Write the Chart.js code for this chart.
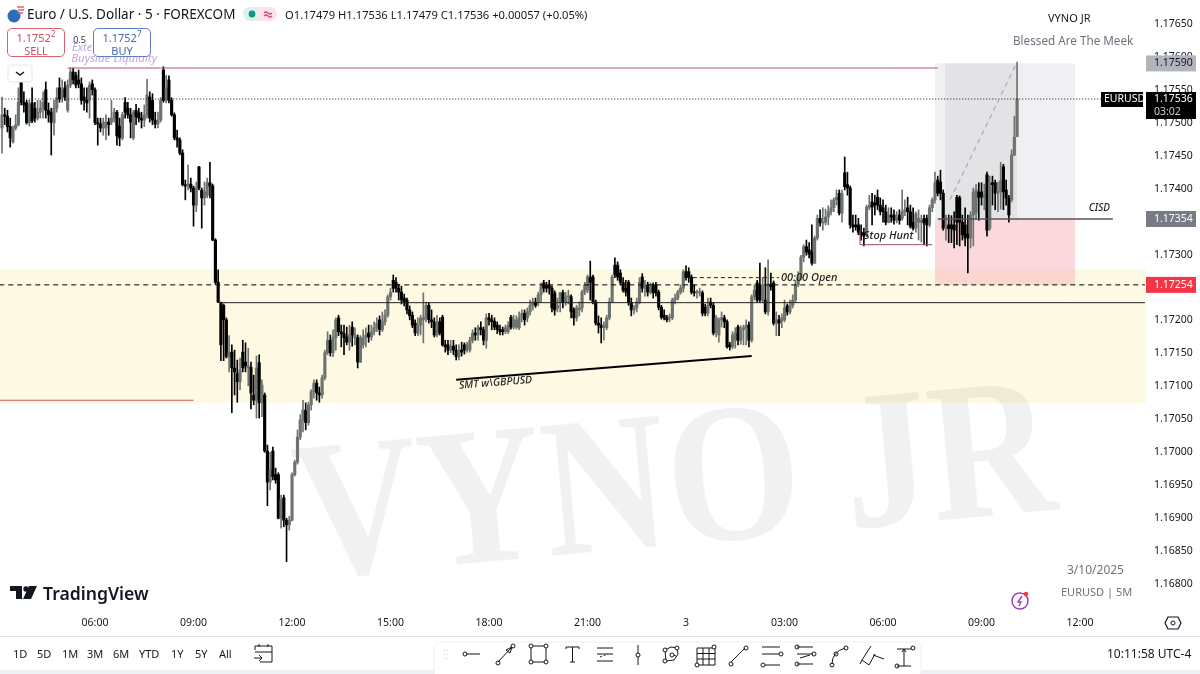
<!DOCTYPE html>
<html>
<head>
<meta charset="utf-8">
<title>EURUSD 5m</title>
<script src="https://cdn.jsdelivr.net/npm/chart.js@4/dist/chart.umd.min.js"></script>
<style>
    html, body { margin: 0; padding: 0; background: #fff; }
    body { width: 1200px; height: 674px; overflow: hidden; position: relative; font-family: "Noto Sans", sans-serif; color: #131722; }
    canvas { position: absolute; left: 0; top: 0; }
    .t { position: absolute; white-space: nowrap; font-size: 11px; line-height: 14px; }
    .box { position: absolute; box-sizing: border-box; width: 58px; height: 29px; top: 28px; background: #fff; border-radius: 5px; border: 1px solid; text-align: center; font-size: 11px; line-height: 13px; padding-top: 2px; }
    .box sup { font-size: 8px; line-height: 0; }
    svg { position: absolute; left: 0; top: 0; }
</style>
</head>
<body>
<canvas id="myChart" width="1200" height="674"></canvas>

<svg width="1200" height="674" fill="none" stroke="#131722" stroke-width="1">
    <!-- header logo and pill -->
    <circle cx="14" cy="16" r="6.5" fill="#2a6fb8" stroke="none"/>
    <path d="M17 7h7M18 10h6M17 13h6" stroke="#e2606a" stroke-width="1.4"/>
    <rect x="243" y="7" width="34" height="14" rx="7" fill="#fbe3ec" stroke="none"/>
    <path d="M243 14a7 7 0 0 1 7-7h8v14h-8a7 7 0 0 1-7-7z" fill="#dff1ec" stroke="none"/>
    <circle cx="252" cy="14" r="3.4" fill="#089981" stroke="none"/>
    <path d="M264 13q2-2 4 0t4 0M264 16q2-2 4 0t4 0" stroke="#d6457d" stroke-width="1.2"/>
    <!-- chevron -->
    <rect x="8" y="65" width="24" height="17" rx="2" fill="#fff" stroke="#e4e6ea"/>
    <path d="M16 72l4 3 4-3" stroke-width="1.4"/>
    <!-- TradingView mark -->
    <path d="M10 586h12v13h-6v-8h-6z M29 586h8l-6 13h-8z" fill="#131722" stroke="none"/>
    <circle cx="26" cy="589" r="2.7" fill="#131722" stroke="none"/>
    <!-- bolt badge -->
    <circle cx="1020" cy="601" r="8" stroke="#9c3fc0" stroke-width="1.5"/>
    <path d="M1022 596l-4 6h3l-2 4" stroke="#9c3fc0" stroke-width="1.4"/>
    <circle cx="1026" cy="594" r="2.2" fill="#f23645" stroke="none"/>
    <!-- settings -->
    <path d="M1168 617h10l3 6-3 6h-10l-3-6z" stroke-width="1.2"/><circle cx="1173" cy="623" r="2"/>
    <!-- bottom rule, strip, toolbar panel -->
    <path d="M0 636.5H1200" stroke="#e0e3eb"/>
    <rect x="0" y="670" width="1200" height="4" fill="#eef0f3" stroke="none"/>
    <rect x="434" y="642" width="487" height="36" rx="7" fill="#fff" stroke="#eceef2"/>
    <!-- date range calendar -->
    <path d="M255 650v-4h17v16h-12M255 652h17M259 644v3M268 644v3M254 658h8M259 655l3 3-3 3"/>
    <path d="M444 650v1M447 650v1M444 654v1M447 654v1M444 658v1M447 658v1" stroke="#c9ccd3"/>
    <!-- drawing tools -->
    <path d="M466 654h14"/><circle cx="465" cy="654" r="2" />
    <path d="M498 662l14-15M506 650l6-3-2 6z" /><circle cx="498" cy="663" r="2"/><circle cx="513" cy="646" r="2"/>
    <rect x="531" y="646" width="15" height="16"/><circle cx="531" cy="646" r="2" fill="#fff"/><circle cx="546" cy="646" r="2" fill="#fff"/><circle cx="531" cy="662" r="2" fill="#fff"/><circle cx="546" cy="662" r="2" fill="#fff"/>
    <path d="M566 647h13M566 647v2M579 647v2M572.5 647v15M570 662h5"/>
    <path d="M597 648h16M597 654h16M597 661h16"/><path d="M600 657l8-3" stroke-dasharray="2 2"/>
    <path d="M638 645v20"/><circle cx="638" cy="655" r="2" fill="#fff"/>
    <path d="M665 650l6-3 6 1 1 6-4 6-8 1z M670 654l6 2"/><circle cx="665" cy="650" r="2" fill="#fff"/><circle cx="677" cy="648" r="2" fill="#fff"/><circle cx="665" cy="661" r="2" fill="#fff"/><circle cx="672" cy="655" r="2" fill="#fff"/>
    <path d="M697 648h18v17h-18z M697 653.5h18M697 659h18M703 648v17M709 648v17"/><circle cx="714" cy="647" r="2" fill="#fff"/><circle cx="697" cy="665" r="2" fill="#fff"/>
    <path d="M731 662l14-14"/><circle cx="731" cy="664" r="2"/><circle cx="746" cy="648" r="2"/>
    <path d="M762 647h18M762 654h18M762 665h18"/><circle cx="781" cy="654" r="2" fill="#fff"/><circle cx="763" cy="665" r="2" fill="#fff"/>
    <path d="M797 647h16M797 654h16M797 664h16M800 658l10-3" /><circle cx="797" cy="647" r="2"/><circle cx="797" cy="664" r="2"/><circle cx="814" cy="654" r="2"/>
    <path d="M832 664q0-12 13-16"/><circle cx="832" cy="665" r="2"/><circle cx="836" cy="654" r="2"/><circle cx="846" cy="648" r="2"/>
    <path d="M871 646l-9 14 7 5 6-11M873 655l11 4M862 660l-2 4"/>
    <path d="M897 649h14M897 666h14M904 649v17M902 652l2-3 2 3"/><circle cx="913" cy="648" r="2"/><circle cx="897" cy="666" r="2"/>
</svg>

<span class="t" style="left:27px;top:6px;font-size:13.5px;line-height:16px">Euro / U.S. Dollar · 5 · FOREXCOM</span>
<span class="t" style="left:285px;top:8px;font-size:11.2px">O1.17479 H1.17536 L1.17479 C1.17536 +0.00057 (+0.05%)</span>
<div class="box" style="left:7px;border-color:#d8616d;color:#cc4c5a">1.1752<sup>2</sup><br>SELL</div>
<div class="box" style="left:93px;border-color:#5b7fc4;color:#4569b0">1.1752<sup>7</sup><br>BUY</div>
<span class="t" style="left:1048px;top:11px">VYNO JR</span>
<span class="t" style="left:1013px;top:33px;font-size:11.7px;color:#6f737c">Blessed Are The Meek</span>
<span class="t" style="left:1067px;top:563px;font-size:12px;color:#6f737c">3/10/2025</span>
<span class="t" style="left:1061px;top:585px;color:#6f737c">EURUSD | 5M</span>
<span class="t" style="left:43px;top:582px;font-size:17.6px;line-height:22px;font-weight:600">TradingView</span>

<span class="t" style="left:13px;top:647px">1D</span>
<span class="t" style="left:37px;top:647px">5D</span>
<span class="t" style="left:62px;top:647px">1M</span>
<span class="t" style="left:87px;top:647px">3M</span>
<span class="t" style="left:113px;top:647px">6M</span>
<span class="t" style="left:139px;top:647px">YTD</span>
<span class="t" style="left:171px;top:647px">1Y</span>
<span class="t" style="left:195px;top:647px">5Y</span>
<span class="t" style="left:219px;top:647px">All</span>
<span class="t" style="left:1107px;top:647px;font-size:12px">10:11:58 UTC-4</span>

<script>
// candle values, in points above 1.17002 (534 means 1.17536), one per 5 minute bar
const opens = [
    490,510,508,492,469,490,495,560,529,528,
    498,528,520,505,514,520,548,517,514,498,
    520,551,536,551,517,555,575,570,563,557,
    537,532,532,557,548,498,496,490,490,499,
    499,505,514,493,475,529,520,510,475,517,
    513,505,502,510,537,532,502,496,502,578,
    532,563,532,510,475,472,452,404,402,405,
    399,373,431,396,384,388,407,402,320,256,
    225,221,199,143,150,126,118,105,150,135,
    126,127,85,77,134,73,85,0,-47,0,
    -36,-36,-102,-71,-105,-112,-105,-36,-17,21,
    47,62,43,70,90,103,88,85,111,149,
    168,149,172,202,181,178,173,165,188,172,
    172,135,161,172,179,173,181,187,199,184,
    196,206,234,259,256,247,241,232,229,214,
    206,194,179,191,199,202,221,199,196,176,
    196,203,161,161,153,159,153,143,153,161,
    153,153,168,179,176,187,184,168,202,199,
    197,191,184,184,181,181,203,188,188,187,
    202,209,202,211,221,226,226,237,255,252,
    252,247,240,217,225,240,225,234,234,214,
    202,214,217,241,244,264,264,226,194,191,
    187,187,202,226,282,282,270,256,247,256,
    225,214,217,226,264,247,252,241,252,252,
    241,218,206,202,202,202,229,232,241,247,
    272,272,264,241,240,240,240,218,209,226,
    221,179,176,199,202,196,161,158,168,188,
    168,184,187,191,168,234,255,252,229,229,
    211,253,255,194,199,197,199,220,211,221,
    229,252,263,294,310,305,302,285,323,353,
    346,347,355,363,369,381,391,361,422,404,
    399,343,343,343,332,331,328,370,378,376,
    385,373,369,363,347,358,358,350,358,353,
    363,369,363,347,338,347,347,353,353,343,
    369,381,411,408,391,338,343,343,343,385,
    384,347,343,329,323,358,361,393,393,385,
    419,338,407,407,391,393,431,396,384,381,
    449,477
];
const highs = [
    537,520,517,505,493,510,551,566,545,532,
    532,551,529,532,532,545,560,528,520,532,
    551,566,563,560,563,581,581,575,578,566,
    551,551,560,563,551,505,505,505,510,505,
    532,520,517,505,514,536,529,520,517,526,
    520,514,525,564,545,542,514,514,536,583,
    570,569,536,513,487,475,457,411,434,414,
    402,408,432,399,408,414,438,405,322,275,
    226,223,202,175,161,153,138,141,168,164,
    156,135,115,144,146,108,88,9,-2,6,
    -26,-33,-67,-67,-102,-99,-33,-14,32,55,
    77,73,74,93,108,108,97,115,153,181,
    176,184,202,206,191,191,188,191,196,187,
    176,175,184,187,191,191,196,202,205,211,
    214,237,247,267,263,253,250,238,232,220,
    211,199,202,206,240,226,225,214,202,206,
    202,206,168,168,168,168,161,161,165,164,
    165,173,184,187,191,196,188,208,209,206,
    202,196,191,188,191,196,206,206,205,211,
    214,214,217,229,232,232,241,255,259,256,
    259,250,243,232,241,244,241,244,237,217,
    221,226,244,256,267,288,267,229,205,202,
    196,206,232,267,293,287,275,263,259,259,
    232,221,232,263,269,259,256,255,255,256,
    244,221,214,206,208,232,238,244,252,275,
    281,278,267,252,244,247,243,223,232,232,
    225,206,202,211,206,199,165,181,187,191,
    190,191,199,196,237,252,259,285,263,278,
    290,270,258,211,206,208,229,223,229,237,
    259,272,297,313,320,316,343,326,358,366,
    369,367,372,381,384,396,396,396,446,423,
    402,358,358,353,343,338,373,388,391,388,
    396,384,381,373,369,369,366,363,366,396,
    381,385,373,369,363,366,358,358,358,373,
    384,423,417,426,396,358,358,357,363,388,
    387,358,369,358,363,399,404,407,407,405,
    423,417,417,411,408,438,435,411,388,457,
    508,590
];
const lows = [
    452,495,484,461,467,487,493,525,514,496,
    493,498,499,502,505,505,505,499,449,479,
    514,529,529,532,514,551,557,551,551,526,
    517,514,505,540,495,464,484,479,472,479,
    495,499,464,463,472,505,505,475,472,495,
    499,490,492,505,499,495,490,490,499,529,
    528,528,508,472,461,449,402,381,396,393,
    341,363,396,338,373,384,384,319,253,225,
    137,137,141,120,58,85,74,93,120,120,
    99,64,70,50,50,52,-2,-83,-59,-44,
    -49,-103,-117,-115,-168,-120,-106,-38,-20,17,
    29,32,39,62,80,77,74,80,108,146,
    144,143,153,175,158,146,161,153,159,161,
    126,134,156,158,165,168,176,181,176,181,
    191,203,229,241,241,229,223,220,208,199,
    187,175,175,176,164,196,194,187,173,173,
    176,159,150,146,149,146,138,138,144,147,
    150,150,164,168,168,176,161,156,191,184,
    184,178,176,176,178,178,185,185,185,184,
    196,191,196,206,214,218,220,225,241,241,
    238,211,206,211,211,217,221,223,202,191,
    197,205,211,237,240,229,223,191,179,164,
    168,184,199,225,263,259,252,241,235,221,
    205,208,211,223,241,235,235,238,232,235,
    214,200,199,196,196,199,223,229,238,241,
    259,256,238,235,232,235,205,205,205,217,
    176,173,165,188,187,156,153,155,156,161,
    162,161,161,158,165,229,226,226,225,208,
    206,244,191,175,175,187,196,206,208,217,
    225,249,259,287,297,293,282,284,320,341,
    335,343,343,358,363,373,358,347,396,388,
    338,332,335,328,320,311,325,366,343,358,
    366,358,347,343,346,347,344,346,344,350,
    357,343,338,335,332,320,317,313,311,340,
    363,376,387,381,335,320,316,316,308,313,
    311,320,311,270,308,311,353,350,373,366,
    326,335,373,366,363,367,366,373,347,378,
    448,477
];
const closes = [
    510,508,492,475,490,495,529,529,525,498,
    526,501,505,514,520,529,517,510,498,520,
    536,534,548,537,555,575,563,555,557,532,
    532,528,555,548,498,496,490,499,499,495,
    505,514,478,475,510,514,510,499,514,507,
    505,502,510,540,505,502,496,502,532,532,
    551,532,510,475,472,452,404,402,405,399,
    373,399,399,384,393,407,402,320,256,226,
    161,199,143,150,126,120,105,123,126,129,
    129,88,77,126,73,100,0,-47,-29,-39,
    -44,-102,-74,-105,-112,-105,-36,-17,21,47,
    62,43,70,90,103,88,85,111,149,168,
    149,172,199,181,178,172,165,176,176,176,
    135,172,172,176,173,181,187,194,184,196,
    206,234,241,247,247,241,229,226,214,205,
    191,179,191,202,202,221,199,196,176,196,
    179,161,158,153,159,153,143,153,150,153,
    161,168,179,176,187,184,168,202,199,196,
    188,184,181,181,187,191,188,199,199,202,
    209,199,211,221,226,221,237,249,247,247,
    247,217,214,221,240,225,234,235,211,202,
    217,217,241,252,264,256,226,194,191,187,
    191,202,226,264,267,264,256,244,241,225,
    214,217,226,256,247,252,241,249,240,240,
    218,203,202,199,202,229,232,241,247,272,
    263,263,241,240,240,240,209,209,221,221,
    179,202,199,202,196,158,158,176,179,168,
    184,187,191,168,234,244,229,229,252,211,
    253,249,194,199,194,202,217,211,221,229,
    252,263,294,310,302,299,285,323,353,346,
    347,355,363,369,381,385,361,391,401,399,
    343,340,340,332,328,326,370,373,370,373,
    373,363,363,347,358,355,350,353,350,363,
    366,363,341,338,360,353,350,346,343,369,
    381,407,391,391,338,338,337,337,335,347,
    347,328,323,323,358,393,396,385,385,388,
    335,407,404,391,394,410,393,384,358,449,
    476,534
];

const timeLabels = ["06:00", "09:00", "12:00", "15:00", "18:00", "21:00", "3", "03:00", "06:00", "09:00", "12:00"];
const timeBars = [34, 70, 106, 142, 178, 214, 250, 286, 322, 358, 394];
const priceTicks = [1.1765, 1.176, 1.1755, 1.175, 1.1745, 1.174, 1.1735, 1.173, 1.1725, 1.172, 1.1715, 1.171, 1.1705, 1.17, 1.1695, 1.169, 1.1685, 1.168];

// price levels drawn on the chart
const zoneTop = 1.17278, zoneBottom = 1.17075;
const buysideLevel = 1.17583, lastPrice = 1.17536, cisdLevel = 1.17354;
const openLevel = 1.17254, midLevel = 1.17227, oldLowLevel = 1.17079;
const stopHuntLevel = 1.17315, dayOpenLevel = 1.17265;
const smtBars = [166, 274], smtPrices = [1.1711, 1.17146];
const riskTop = 1.17590, riskBottom = 1.17354, stopBottom = 1.17254;
const tagPrices = [1.17590, 1.17354, 1.17254];
const tagColors = ["#b2b5be", "#787b86", "#f23645"];

const toPrice = (v) => 1.17002 + v / 100000;
const bars = opens.map((o, i) => i);
const upColor = "#6d736f", downColor = "#000000";
const barColor = (i) => closes[i] >= opens[i] ? upColor : downColor;
const font = '"Noto Sans", sans-serif';

function hLine(ctx, c, price, from, to, color, width, dash) {
    const y = c.scales.y.getPixelForValue(price);
    ctx.save();
    ctx.strokeStyle = color;
    ctx.lineWidth = width;
    ctx.setLineDash(dash || []);
    ctx.beginPath();
    ctx.moveTo(c.scales.x.getPixelForValue(from), y);
    ctx.lineTo(to === null ? c.chartArea.right : c.scales.x.getPixelForValue(to), y);
    ctx.stroke();
    ctx.restore();
}

function fillBand(ctx, c, from, to, top, bottom, color) {
    const x1 = c.scales.x.getPixelForValue(from), x2 = c.scales.x.getPixelForValue(to);
    const y1 = c.scales.y.getPixelForValue(top), y2 = c.scales.y.getPixelForValue(bottom);
    ctx.fillStyle = color;
    ctx.fillRect(x1, y1, x2 - x1, y2 - y1);
}

function label(ctx, c, text, bar, price, color, style) {
    ctx.fillStyle = color;
    ctx.font = style;
    ctx.textAlign = "left";
    ctx.textBaseline = "middle";
    ctx.fillText(text, c.scales.x.getPixelForValue(bar), c.scales.y.getPixelForValue(price));
}

// zone, position box and watermark go under the candles
const backdrop = {
    id: "backdrop",
    beforeDatasetsDraw(c) {
        const ctx = c.ctx;
        ctx.save();
        fillBand(ctx, c, -1, 418, zoneTop, zoneBottom, "#fef9e3");
        fillBand(ctx, c, 341, 392.2, riskTop, riskBottom, "#f0f0f2");
        fillBand(ctx, c, 344.7, 371, riskTop, riskBottom, "#e3e3e6");
        fillBand(ctx, c, 341, 392.2, riskBottom, stopBottom, "rgba(247,190,195,0.6)");

        ctx.translate(372, 572);
        ctx.rotate(-5.2 * Math.PI / 180);
        ctx.scale(0.87, 1);
        ctx.font = 'bold 198px "Liberation Serif", serif';
        ctx.fillStyle = "rgba(0,0,0,0.055)";
        ctx.textAlign = "left";
        ctx.textBaseline = "alphabetic";
        ctx.fillText("VYNO JR", -82, 0);
        ctx.restore();
    },
    afterDatasetsDraw(c) {
        const ctx = c.ctx, sx = c.scales.x, sy = c.scales.y;
        ctx.save();
        hLine(ctx, c, buysideLevel, 24, 342, "#b5566c", 1);
        hLine(ctx, c, lastPrice, -1, 402, "#131722", 1, [1, 2]);
        hLine(ctx, c, openLevel, -1, null, "#000", 1, [5, 4]);
        hLine(ctx, c, midLevel, 80.4, null, "#222", 1);
        hLine(ctx, c, oldLowLevel, -1, 70, "#d2555e", 1);
        hLine(ctx, c, dayOpenLevel, 252.5, 284, "#222", 1, [4, 3]);
        hLine(ctx, c, stopHuntLevel, 313.6, 340, "#9c4c60", 1);
        hLine(ctx, c, cisdLevel, 342, 406, "#555", 1.4);

        // stop hunt tick
        ctx.strokeStyle = "#9c4c60";
        ctx.beginPath();
        ctx.moveTo(sx.getPixelForValue(313.6), sy.getPixelForValue(stopHuntLevel));
        ctx.lineTo(sx.getPixelForValue(313.6), sy.getPixelForValue(1.17337));
        ctx.stroke();

        // SMT trend line
        ctx.strokeStyle = "#000";
        ctx.lineWidth = 2;
        ctx.beginPath();
        ctx.moveTo(sx.getPixelForValue(smtBars[0]), sy.getPixelForValue(smtPrices[0]));
        ctx.lineTo(sx.getPixelForValue(smtBars[1]), sy.getPixelForValue(smtPrices[1]));
        ctx.stroke();

        // dashed path of the trade
        ctx.strokeStyle = "#a9abb1";
        ctx.lineWidth = 1.2;
        ctx.setLineDash([5, 4]);
        ctx.beginPath();
        ctx.moveTo(sx.getPixelForValue(346.5), sy.getPixelForValue(toPrice(381)));
        ctx.lineTo(sx.getPixelForValue(371), sy.getPixelForValue(toPrice(590)));
        ctx.stroke();
        ctx.setLineDash([]);

        label(ctx, c, "0.5", 26, 1.17625, "#333", "9px " + font);
        label(ctx, c, "Exte", 25.6, 1.17614, "#c9a6dc", "italic 11px " + font);
        label(ctx, c, "Buyside Liquidity", 25.3, 1.17597, "#c9a6dc", "italic 11.5px " + font);
        label(ctx, c, "00:00 Open", 284.7, 1.17265, "#222", "italic 500 11px " + font);
        label(ctx, c, "Stop Hunt", 315, 1.17329, "#222", "italic 500 11px " + font);
        label(ctx, c, "CISD", 397.2, 1.17370, "#222", "italic 500 10px " + font);

        // rotated text follows the trend line
        ctx.save();
        ctx.translate(sx.getPixelForValue(167), sy.getPixelForValue(1.17101));
        ctx.rotate(-4.6 * Math.PI / 180);
        ctx.fillStyle = "#222";
        ctx.font = "italic 500 10.5px " + font;
        ctx.textAlign = "left";
        ctx.textBaseline = "middle";
        ctx.fillText("SMT w\\GBPUSD", 0, 0);
        ctx.restore();
        ctx.restore();
    },
    afterDraw(c) {
        const ctx = c.ctx, sy = c.scales.y;
        ctx.save();
        ctx.textAlign = "left";
        ctx.textBaseline = "middle";
        ctx.font = "10.5px " + font;
        tagPrices.forEach((p, i) => {
            const y = sy.getPixelForValue(p);
            ctx.fillStyle = tagColors[i];
            ctx.fillRect(1146, y - 8, 50, 16);
            ctx.fillStyle = i === 0 ? "#131722" : "#fff";
            ctx.fillText(p.toFixed(5), 1154, y);
        });
        const y = sy.getPixelForValue(lastPrice);
        ctx.fillStyle = "#000";
        ctx.fillRect(1146, y - 7, 50, 27);
        ctx.fillRect(1101, y - 7, 42, 15);
        ctx.fillStyle = "#fff";
        ctx.fillText(lastPrice.toFixed(5), 1154, y);
        ctx.fillText("EURUSD", 1104, y);
        ctx.fillStyle = "#c9cbd0";
        ctx.fillText("03:02", 1154, y + 13);
        ctx.restore();
    }
};

new Chart(document.getElementById("myChart").getContext("2d"), {
    type: "bar",
    data: {
        datasets: [
            {
                label: "body",
                data: bars.map((i) => ({ x: i, y: [toPrice(opens[i]), toPrice(closes[i])] })),
                backgroundColor: (c) => barColor(c.dataIndex),
                barThickness: 2.5,
                minBarLength: 1,
                grouped: false,
            },
            {
                label: "wick",
                data: bars.map((i) => ({ x: i, y: [toPrice(lows[i]), toPrice(highs[i])] })),
                backgroundColor: (c) => barColor(c.dataIndex),
                barThickness: 1,
                grouped: false,
            },
        ],
    },
    options: {
        responsive: false,
        animation: false,
        layout: { padding: 0 },
        plugins: { legend: { display: false }, tooltip: { enabled: false } },
        scales: {
            x: {
                type: "linear",
                offset: false,
                min: -0.73,
                max: 417.75,
                grid: { display: false, drawTicks: false, offset: false },
                border: { display: false },
                afterBuildTicks: (s) => { s.ticks = timeBars.map((v) => ({ value: v })); },
                afterFit: (s) => { s.height = 66; s.paddingLeft = 0; s.paddingRight = 0; },
                ticks: {
                    autoSkip: false,
                    maxRotation: 0,
                    padding: 9,
                    color: "#131722",
                    font: { family: font, size: 10.5 },
                    callback: (v) => timeLabels[timeBars.indexOf(v)],
                },
            },
            y: {
                type: "linear",
                position: "right",
                min: 1.167638,
                max: 1.176862,
                grid: { display: false, drawTicks: false },
                border: { display: false },
                afterBuildTicks: (s) => { s.ticks = priceTicks.map((v) => ({ value: v })); },
                afterFit: (s) => { s.width = 55; s.paddingTop = 0; s.paddingBottom = 0; },
                ticks: {
                    autoSkip: false,
                    padding: 9,
                    color: "#131722",
                    font: { family: font, size: 10.5 },
                    callback: (v) => v.toFixed(5),
                },
            },
        },
    },
    plugins: [backdrop],
});
</script>
</body>
</html>
